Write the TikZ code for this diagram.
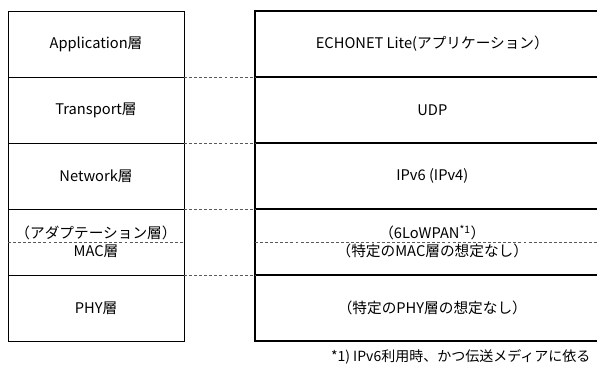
\documentclass[tikz,border=0pt]{standalone}
\usepackage{fontspec}
\setmainfont{Noto Sans CJK JP}
\usetikzlibrary{positioning}

\begin{document}
\begin{tikzpicture}[x=0.75pt,y=-0.75pt,font=\fontsize{11}{13}\selectfont,
    layer/.style={draw,line width=0.6pt,minimum width=132pt,minimum height=49.5pt,inner sep=0pt,outer sep=0pt},
    proto/.style={draw,line width=1.6pt,minimum width=266pt,minimum height=49.5pt,inner sep=0pt,outer sep=0pt},
    gap/.style={draw=black!65,line width=0.6pt,dash pattern=on 2.2pt off 1.6pt}]
    \useasboundingbox (0,0) rectangle (597,365);

    % OSI side
    \node[layer]                   (app) at (96,44) {Application層};
    \node[layer, below=0pt of app] (trn) {Transport層};
    \node[layer, below=0pt of trn] (net) {Network層};
    \node[layer, below=0pt of net] (adp) {};
    \node[layer, below=0pt of adp] (phy) {PHY層};

    \node (adpname) at ([yshift=7pt]adp.center)  {（アダプテーション層）};
    \node (macname) at ([yshift=-7pt]adp.center) {MAC層};

    % ECHONET Lite side
    \node[proto, right=53.25pt of app] (ecl) {ECHONET Lite(アプリケーション）};
    \node[proto, below=0pt of ecl]     (udp) {UDP};
    \node[proto, below=0pt of udp]     (ipv) {IPv6 (IPv4)};
    \node[proto, below=0pt of ipv]     (low) {};
    \node[proto, below=0pt of low]     (fis) {（特定のPHY層の想定なし）};

    \node (lowname) at ([yshift=7pt]low.center)  {（6LoWPAN\textsuperscript{*1}）};
    \node (mactext) at ([yshift=-7pt]low.center) {（特定のMAC層の想定なし）};

    \path[gap] (adp.west) -- (adp.east)
    (low.west) -- (low.east);

    \path[gap] (app.south east) -- (ecl.south west)
    (trn.south east) -- (udp.south west)
    (net.south east) -- (ipv.south west)
    (adp.south east) -- (low.south west);

    \node[anchor=east, font=\fontsize{10.5}{12}\selectfont] (note) at (595,357) {*1) IPv6利用時、かつ伝送メディアに依る};
\end{tikzpicture}
\end{document}
